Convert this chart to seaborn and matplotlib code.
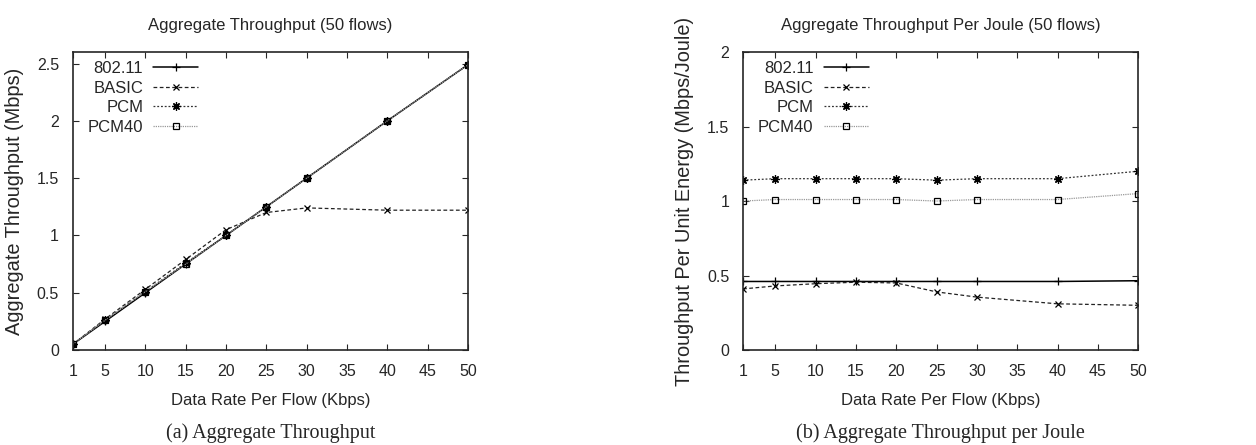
import matplotlib
matplotlib.use("Agg")
import matplotlib.pyplot as plt
import seaborn as sns

rates = [1, 5, 10, 15, 20, 25, 30, 40, 50]
series = ["802.11", "BASIC", "PCM", "PCM40"]

# (a) aggregate throughput, Mbps
thr_80211 = [0.05, 0.25, 0.50, 0.75, 1.00, 1.25, 1.50, 2.00, 2.49]
thr_basic = [0.05, 0.27, 0.53, 0.79, 1.05, 1.20, 1.24, 1.22, 1.22]
thr_pcm = [0.05, 0.26, 0.51, 0.76, 1.00, 1.25, 1.50, 2.00, 2.49]
thr_pcm40 = [0.05, 0.26, 0.51, 0.75, 1.00, 1.25, 1.50, 2.00, 2.49]

# (b) throughput per joule, Mbps/Joule
tpj_80211 = [0.46, 0.46, 0.46, 0.46, 0.46, 0.46, 0.46, 0.46, 0.465]
tpj_basic = [0.41, 0.43, 0.445, 0.455, 0.45, 0.39, 0.355, 0.31, 0.30]
tpj_pcm = [1.14, 1.15, 1.15, 1.15, 1.15, 1.14, 1.15, 1.15, 1.20]
tpj_pcm40 = [1.00, 1.01, 1.01, 1.01, 1.01, 1.00, 1.01, 1.01, 1.05]

sns.set_style("ticks")
plt.rcParams["font.family"] = ["Liberation Sans", "DejaVu Sans"]
plt.rcParams["font.size"] = 10

# line style per protocol: colour, dash pattern, marker, marker face
styles = {
    "802.11": dict(color="black", ls="-", marker="+", mfc="black", ms=6, lw=1.1),
    "BASIC": dict(color="#222222", ls=(0, (3, 2)), marker="x", mfc="black", ms=5, lw=0.9),
    "PCM": dict(color="#333333", ls=(0, (1.5, 1.5)), marker=(8, 2, 0), mfc="black", ms=6, lw=0.9),
    "PCM40": dict(color="#999999", ls=(0, (1, 0.8)), marker="s", mfc="none", ms=5, lw=0.9),
}

fig = plt.figure(figsize=(12.56, 4.45), dpi=100)
ax1 = fig.add_axes([0.058, 0.2135, 0.3146, 0.6695])
ax2 = fig.add_axes([0.5916, 0.2135, 0.3146, 0.6695])

panels = [
    (ax1, [thr_80211, thr_basic, thr_pcm, thr_pcm40], (0, 2.6), [0, 0.5, 1, 1.5, 2, 2.5],
     "Aggregate Throughput (Mbps)", "Aggregate Throughput (50 flows)",
     "(a) Aggregate Throughput"),
    (ax2, [tpj_80211, tpj_basic, tpj_pcm, tpj_pcm40], (0, 2.0), [0, 0.5, 1, 1.5, 2],
     "Throughput Per Unit Energy (Mbps/Joule)", "Aggregate Throughput Per Joule (50 flows)",
     "(b) Aggregate Throughput per Joule"),
]

for ax, vals, ylim, yt, ylab, title, caption in panels:
    for name, ys in zip(series, vals):
        st = styles[name]
        sns.lineplot(x=rates, y=ys, ax=ax, label=name, color=st["color"],
                     linestyle=st["ls"], marker=st["marker"], markersize=st["ms"],
                     markerfacecolor=st["mfc"], markeredgecolor="black",
                     markeredgewidth=0.9, linewidth=st["lw"])
    ax.set_xlim(1, 50)
    ax.set_ylim(*ylim)
    ax.set_xticks([1, 5, 10, 15, 20, 25, 30, 35, 40, 45, 50])
    ax.set_yticks(yt)
    ax.set_yticklabels([f"{v:g}" for v in yt])
    ax.tick_params(direction="in", top=True, right=True, length=4.5, width=0.8,
                   labelsize=11.5, pad=10)
    for sp in ax.spines.values():
        sp.set_linewidth(1.2)
    ax.set_xlabel("Data Rate Per Flow (Kbps)", fontsize=12, labelpad=10)
    ax.set_ylabel(ylab, fontsize=14.4, labelpad=9)
    ax.set_title(title, fontsize=12, pad=16)
    ax.text(0.5, -0.245, caption, transform=ax.transAxes, ha="center", va="top",
            fontsize=14.5, family=["Liberation Serif", "DejaVu Serif"])
    ax.legend(loc="upper left", markerfirst=False, frameon=False,
              fontsize=12, handlelength=2.7, handletextpad=0.6,
              labelspacing=0.27, borderaxespad=0, borderpad=0,
              bbox_to_anchor=(0.038, 0.97))

fig.savefig("out.png", dpi=100)
